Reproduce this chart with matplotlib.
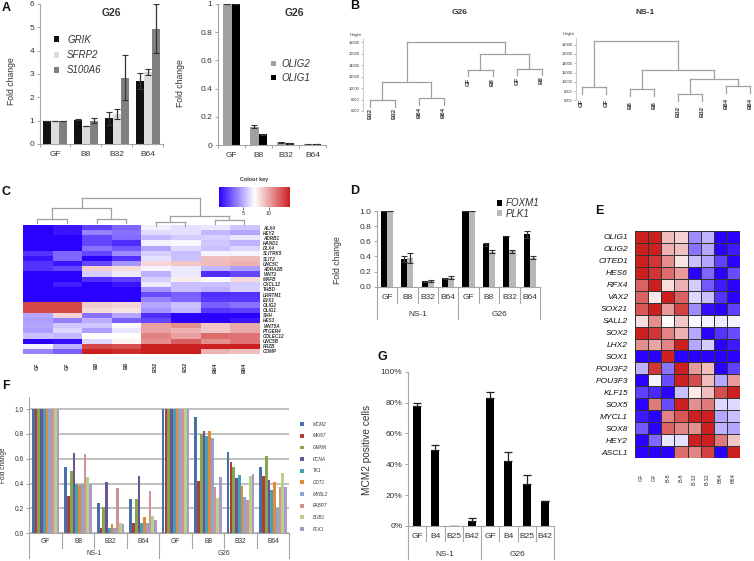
import numpy as np
import matplotlib
matplotlib.use('Agg')
from matplotlib import pyplot as plt
from matplotlib.colors import LinearSegmentedColormap

plt.rcParams['font.family'] = ['Liberation Sans', 'DejaVu Sans']

W, H = 754, 561
TXT = '#333333'
AXC = '#a6a6a6'

# panel A
a_stages = ['GF', 'B8', 'B32', 'B64']
grik = [1, 1.05, 1.1, 2.7]
grik_err = [0, 0.02, 0.28, 0.35]
sfrp2 = [1, 0.78, 1.3, 3.1]
sfrp2_err = [0, 0.01, 0.22, 0.13]
s100a6 = [1, 1, 2.85, 4.95]
s100a6_err = [0, 0.12, 0.95, 1.03]
olig2 = [1, 0.13, 0.02, 0.005]
olig2_err = [0, 0.012, 0.003, 0.002]
olig1 = [1, 0.075, 0.012, 0.005]
olig1_err = [0, 0.005, 0.002, 0.001]

# panel B, trees are (height, left, right), ints are leaf numbers
b_g26_leaves = ['B32', 'B32', 'B64', 'B64', 'GF', 'B8', 'GF', 'B8']
b_g26_tree = (18000, (11100, (7900, 0, 1), (8200, 2, 3)),
              (15900, (13200, 4, 5), (13400, 6, 7)))
b_ns1_leaves = ['GF', 'GF', 'B8', 'B8', 'B32', 'B32', 'B64', 'B64']
b_ns1_tree = (18800, (8800, 0, 1),
              (12450, (8350, 2, 3), (10650, (7300, 4, 5), (9000, 6, 7))))
b_ticks = [6000, 8000, 10000, 12000, 14000, 16000, 18000]

# panel C
c_columns = ['GF', 'GF', 'B8', 'B8', 'B32', 'B32', 'B64', 'B64']
c_genes = ['ALX4', 'HEY2', 'ADRB1', 'HAND1', 'DLX4', 'SLITRK5', 'SLIT2', 'UNC5C',
           'ADRA2B', 'WNT1', 'MAFB', 'CXCL12', 'THBD', 'LRRTM1', 'EVX1', 'OLIG2',
           'OLIG1', 'SHH', 'HES3', 'WNT5A', 'PTGER4', 'COLEC12', 'UNC5B', 'FRZB', 'COMP']
c_values = [
    [-1, -.92, -.75, -.6, -.06, -.12, -.1, -.22],
    [-1, -.92, -.48, -.55, -.14, -.12, -.28, -.35],
    [-1, -1, -.72, -.58, -.28, -.2, -.18, -.1],
    [-1, -1, -.72, -.82, -.05, -.03, -.22, -.3],
    [-1, -1, -.55, -.65, -.35, -.15, -.25, -.15],
    [-.8, -.6, -.72, -.45, -.18, -.25, -.04, -.04],
    [-.92, -.6, -1, -.8, -.12, -.25, .28, .3],
    [-.8, -.92, -.72, -.42, .18, .25, .3, .35],
    [-.8, -.72, .22, .16, -.04, -.08, -.28, -.38],
    [-1, -1, -.2, -.08, -.3, -.08, -.82, -.72],
    [-1, -1, -.82, -.75, -.18, .08, -.02, .16],
    [-1, -.88, -1, -.92, -.08, -.25, -.25, -.2],
    [-1, -1, -1, -1, -.42, -.25, -.3, -.18],
    [-1, -1, -1, -1, -.7, -.62, -.82, -.8],
    [-1, -1, -1, -1, -.48, -.6, -.78, -.78],
    [.82, .82, .22, .18, -.35, -.25, -.62, -.55],
    [.82, .82, .16, .12, -.42, -.28, -.78, -.75],
    [-.35, .2, -.55, -.35, -.82, -1, -1, -1],
    [-.38, -.5, -.32, -.62, -.72, -1, -1, -.92],
    [-.35, -.22, -.22, -.02, .42, .5, .25, .38],
    [-.38, -.15, -.38, -.1, .42, .35, .25, .38],
    [-.25, -.28, .0, .0, .55, .42, .65, .62],
    [-1, -.95, -.15, .05, .5, .72, .5, .62],
    [-.05, -.32, .82, .78, 1, 1, 1, 1],
    [-.48, -.62, 1, .95, 1, 1, .35, .28],
]
c_tree = (198, (208, (219, 0, 1), (219, 2, 3)),
          (216, (222, 4, 5), (220, 6, 7)))

# panel D
d_stages = ['GF', 'B8', 'B32', 'B64', 'GF', 'B8', 'B32', 'B64']
d_groups = ['NS-1', 'G26']
foxm1 = [1, 0.36, 0.07, 0.11, 1, 0.56, 0.67, 0.69]
foxm1_err = [0, 0.04, 0.005, 0.005, 0, 0.02, 0, 0.05]
plk1 = [1, 0.38, 0.08, 0.12, 1, 0.46, 0.47, 0.38]
plk1_err = [0, 0.07, 0.015, 0.015, 0, 0.02, 0.02, 0.02]

# panel E
e_columns = ['GF', 'GF', 'B-8', 'B-8', 'B-32', 'B-32', 'B64', 'B64']
e_genes = ['OLIG1', 'OLIG2', 'CITED1', 'HES6', 'RFX4', 'VAX2', 'SOX21', 'SALL2', 'SOX2',
           'LHX2', 'SOX1', 'POU3F2', 'POU3F3', 'KLF15', 'SOX5', 'MYCL1', 'SOX8', 'HEY2', 'ASCL1']
e_values = [
    [1, 1, .3, .2, -.45, -.3, -1, -1],
    [1, 1, .35, .28, -.55, -.35, -1, -.9],
    [1, .9, .5, .12, -.25, -.35, -.75, -1],
    [1, .9, .65, .45, -1, -.6, -1, -.7],
    [.7, 1, .15, .35, -.2, -.65, -.9, -1],
    [.7, .1, 1, .7, -.15, -.25, -.8, -1],
    [.75, 1, .45, .85, -.45, -.95, -1, -.75],
    [.15, .5, .02, .25, -.02, -.05, -.08, -.05],
    [1, .9, .55, .35, -.35, -1, -.8, -.7],
    [.5, .4, .55, 1, -.35, -.2, -1, -.9],
    [-1, -1, 1, -1, -1, -1, -1, -1],
    [-.3, .9, -.55, 1, .45, .3, -1, -.75],
    [-1, -.05, -.7, 1, .8, .3, -.35, .45],
    [-.75, -.85, -1, -.25, .1, .3, .8, 1],
    [-1, .6, -.7, 1, .5, .6, -.15, -.15],
    [-.9, -1, .55, .75, 1, 1, -.35, -.25],
    [-.65, -1, .7, .55, .5, 1, -.3, -.35],
    [-1, -.6, -.1, -.12, 1, 1, .6, .25],
    [-1, -1, -1, .65, .55, .85, -1, 1],
]

# panel F
f_genes = ['MCM2', 'MKI67', 'GMNN', 'PCNA', 'TK1', 'CDT1', 'MYBL2', 'FABP7', 'BUB1', 'PLK1']
f_colors = ['#4a6fa5', '#a5403c', '#86a64b', '#6b5295', '#46a0b8', '#e08a38',
            '#8ea4d2', '#d19391', '#b9cf8f', '#a99bc4']
f_values = [
    [1, .53, .245, .28, 1, .94, .655, .53],
    [1, .30, .04, .08, 1, .42, .575, .46],
    [1, .50, .215, .28, 1, .80, .535, .62],
    [1, .65, .415, .46, 1, .825, .445, .43],
    [1, .40, .04, .085, 1, .78, .47, .35],
    [1, .39, .075, .13, 1, .825, .38, .41],
    [1, .40, .045, .085, 1, .77, .295, .2],
    [1, .635, .365, .34, 1, .37, .265, .37],
    [1, .455, .08, .14, 1, .285, .465, .485],
    [1, .395, .075, .11, 1, .455, .475, .375],
]

# panel G
g_stages = ['GF', 'B4', 'B25', 'B42', 'GF', 'B4', 'B25', 'B42']
mcm2_pos = [78, 49.5, 0.3, 3, 83, 42, 27, 16]
mcm2_err = [1.5, 3, 0, 2, 4, 6, 6, 0]

fig = plt.figure(figsize=(W / 100, H / 100), dpi=100)
heat = LinearSegmentedColormap.from_list('heat', ['#2a00ff', '#ffffff', '#cc2020'])


def px_axes(x0, y0, x1, y1):
    # pixel box, y counted from the top like in the image
    ax = fig.add_axes([x0 / W, 1 - y1 / H, (x1 - x0) / W, (y1 - y0) / H])
    ax.patch.set_alpha(0)
    return ax


def bar_style(ax, size=6):
    for s in ['top', 'right']:
        ax.spines[s].set_visible(False)
    for s in ['left', 'bottom']:
        ax.spines[s].set_color(AXC)
    ax.tick_params(colors=TXT, labelsize=size, length=2, width=0.7, color=AXC, pad=2)


def ylab(ax, s, x_px, y_px, size=6.2):
    pos = ax.get_position()
    ax.set_ylabel(s, fontsize=size, color=TXT)
    ax.yaxis.set_label_coords((x_px / W - pos.x0) / pos.width, ((1 - y_px / H) - pos.y0) / pos.height)


def stage_axis(ax, labels, groups, height, size=6, d1=16, d2=32, l1=11, l2=28):
    # two level category axis under the bars
    n = len(labels)
    ax.set_xlim(0, n)
    ax.set_xticks([])
    tr = ax.get_xaxis_transform()
    for i in range(n + 1):
        d = d2 if i % (n // len(groups)) == 0 else d1
        ax.plot([i, i], [0, -d / height], color=AXC, lw=0.8, transform=tr, clip_on=False)
    for i, lab in enumerate(labels):
        ax.text(i + 0.5, -l1 / height, lab, transform=tr, ha='center', va='center', fontsize=size, color=TXT)
    for i, lab in enumerate(groups):
        ax.text((i + 0.5) * n / len(groups), -l2 / height, lab, transform=tr, ha='center', va='center',
                fontsize=size, color=TXT)


def draw_tree(ax, node, hang, color='#a0a0a0', lw=0.8):
    # returns x and height of the node, leaf stems hang below the parent
    h, left, right = node
    xs = []
    for child in (left, right):
        if isinstance(child, int):
            ax.plot([child, child], [h, h - hang], color=color, lw=lw, clip_on=False)
            xs.append(child)
        else:
            x, ch = draw_tree(ax, child, hang, color, lw)
            ax.plot([x, x], [h, ch], color=color, lw=lw, clip_on=False)
            xs.append(x)
    ax.plot(xs, [h, h], color=color, lw=lw, clip_on=False)
    return sum(xs) / 2, h


def leaf_labels(ax, node, leaves, drop):
    h, left, right = node
    for c in (left, right):
        if isinstance(c, int):
            ax.text(c, h - drop, leaves[c], rotation=90, fontsize=4.3, color=TXT, ha='center', va='top',
                    fontweight='bold', clip_on=False)
        else:
            leaf_labels(ax, c, leaves, drop)


def letter(x, y, s):
    fig.text(x / W, 1 - y / H, s, fontsize=9, fontweight='bold', color='#111111', ha='left', va='center')


def legend(ax, x, y, **kw):
    leg = ax.legend(loc='upper left', bbox_to_anchor=(x, y), frameon=False, handlelength=0.55, handleheight=0.55,
                    borderpad=0, borderaxespad=0, labelcolor=TXT, **kw)
    for t in leg.get_texts():
        t.set_fontstyle('italic')
    return leg


ebar = dict(ecolor='#333333', capsize=2.5, error_kw=dict(lw=0.9, capthick=0.8))

# A left
ax = px_axes(39.5, 4, 163, 144)
x = np.arange(len(a_stages))
ax.bar(x - 0.26, grik, 0.26, yerr=grik_err, color='#111111', label='GRIK', **ebar)
ax.bar(x, sfrp2, 0.26, yerr=sfrp2_err, color='#dcdcdc', label='SFRP2', **ebar)
ax.bar(x + 0.26, s100a6, 0.26, yerr=s100a6_err, color='#808080', label='S100A6', **ebar)
ax.set_xlim(-0.5, 3.5)
ax.set_ylim(0, 6)
ax.set_xticks(np.arange(-0.5, 4), [''] * 5)
ax.set_yticks(range(7))
bar_style(ax)
for i, s in enumerate(a_stages):
    ax.text(i, -0.47, s, ha='center', va='center', fontsize=6, color=TXT)
ylab(ax, 'Fold change', 16, 81)
fig.text(111 / W, 1 - 13 / H, 'G26', fontsize=7.5, fontweight='bold', color=TXT, ha='center', va='center')
legend(ax, 0.117, 0.78, fontsize=7, labelspacing=0.55, handletextpad=0.8)

# A right
ax = px_axes(218, 4, 326, 145)
x = np.arange(len(a_stages))
ax.bar(x - 0.165, olig2, 0.33, yerr=olig2_err, color='#a0a0a0', label='OLIG2', **ebar)
ax.bar(x + 0.165, olig1, 0.33, yerr=olig1_err, color='#000000', label='OLIG1', **ebar)
ax.set_xlim(-0.5, 3.5)
ax.set_ylim(0, 1)
ax.set_xticks(np.arange(-0.5, 4), [''] * 5)
ax.set_yticks([0, 0.2, 0.4, 0.6, 0.8, 1], ['0', '0.2', '0.4', '0.6', '0.8', '1'])
bar_style(ax)
for i, s in enumerate(a_stages):
    ax.text(i, -0.078, s, ha='center', va='center', fontsize=6, color=TXT)
ylab(ax, 'Fold change', 185, 83)
fig.text(294 / W, 1 - 13 / H, 'G26', fontsize=7.5, fontweight='bold', color=TXT, ha='center', va='center')
legend(ax, 0.488, 0.61, fontsize=7, labelspacing=0.4, handletextpad=0.55)

# B dendrograms
for box, leaves, tree, step, first, hang, drop, ytop in [
        ((363, 39, 545, 111), b_g26_leaves, b_g26_tree, 24.5, 370, 1160, 1400, 18570),
        ((575.7, 38, 752, 100.3), b_ns1_leaves, b_ns1_tree, 24.05, 581.7, 1440, 2500, 19450)]:
    ax = px_axes(*box)
    ax.set_xlim((box[0] - first) / step, (box[2] - first) / step)
    ax.set_ylim(6000, ytop)
    for s in ['top', 'right', 'bottom']:
        ax.spines[s].set_visible(False)
    ax.spines['left'].set_color('#cccccc')
    ax.set_xticks([])
    ax.set_yticks(b_ticks)
    ax.tick_params(axis='y', labelsize=2.9, length=1.5, width=0.5, color='#999999', labelcolor=TXT, pad=1)
    draw_tree(ax, tree, hang, lw=0.9)
    ax.text(-0.04, 1.03, 'Height', transform=ax.transAxes, fontsize=2.9, color=TXT, ha='center', va='bottom')
    leaf_labels(ax, tree, leaves, drop)
fig.text(459.5 / W, 1 - 12 / H, 'G26', fontsize=6, fontweight='bold', color=TXT, ha='center', va='center')
fig.text(645 / W, 1 - 12 / H, 'NS-1', fontsize=6, fontweight='bold', color=TXT, ha='center', va='center')

# C heatmap
ax = px_axes(22.7, 225, 259, 354)
ax.imshow(c_values, cmap=heat, vmin=-1, vmax=1, aspect='auto', interpolation='nearest')
ax.set_xticks(range(8), c_columns, rotation=90, fontsize=4, fontweight='bold', color=TXT)
ax.set_yticks(range(len(c_genes)), c_genes, fontsize=3.3, fontstyle='italic', fontweight='bold', color=TXT)
ax.yaxis.tick_right()
ax.tick_params(length=0, pad=3)
ax.tick_params(axis='x', pad=6)
for s in ax.spines.values():
    s.set_visible(False)

ax = px_axes(22.7, 190, 259, 225)
ax.set_xlim(-0.5, 7.5)
ax.set_ylim(225, 190)
ax.axis('off')
draw_tree(ax, c_tree, -4, lw=0.9)

ax = px_axes(219, 187, 290, 207)
ax.imshow([np.linspace(-1, 1, 256)], cmap=heat, aspect='auto', extent=(0.4, 14, 0, 1))
ax.set_yticks([])
ax.set_xticks([5, 10])
ax.tick_params(labelsize=3.9, length=2, width=0.5, color=TXT, labelcolor=TXT, pad=1)
for s in ax.spines.values():
    s.set_visible(False)
ax.set_title('Colour key', fontsize=3.9, fontweight='bold', color=TXT, pad=4)

# D
ax = px_axes(376.7, 211, 540, 286.7)
x = np.arange(8) + 0.5
ax.bar(x - 0.15, foxm1, 0.3, yerr=foxm1_err, color='#000000', label='FOXM1', **ebar)
ax.bar(x + 0.15, plk1, 0.3, yerr=plk1_err, color='#b8b8b8', label='PLK1', **ebar)
ax.set_ylim(0, 1)
ax.set_yticks(np.arange(0, 1.01, 0.2), ['0.0', '0.2', '0.4', '0.6', '0.8', '1.0'])
bar_style(ax)
stage_axis(ax, d_stages, d_groups, 75.7)
ylab(ax, 'Fold change', 342, 260)
legend(ax, 0.735, 1.17, fontsize=7, labelspacing=0.05, handletextpad=0.35)

# E heatmap
ax = px_axes(635, 231, 740, 458)
ax.pcolormesh(np.array(e_values)[::-1], cmap=heat, vmin=-1, vmax=1, edgecolors='#333333', linewidth=0.4)
ax.set_xticks(np.arange(8) + 0.5, e_columns, rotation=90, fontsize=4, color=TXT)
ax.set_yticks(np.arange(19) + 0.5, e_genes[::-1], fontsize=6, fontstyle='italic', color='#111111')
ax.tick_params(length=0, pad=5)
ax.tick_params(axis='x', pad=11)
for s in ax.spines.values():
    s.set_visible(False)

# F
ax = px_axes(29.3, 396.7, 289.3, 533.3)
bw = 0.085
for i, (gene, vals) in enumerate(zip(f_genes, f_values)):
    ax.bar(np.arange(8) + 0.5 + (i - 4.5) * bw, vals, bw, color=f_colors[i], label=gene, zorder=3)
ax.set_ylim(0, 1.1)
ax.set_yticks(np.arange(0, 1.01, 0.2), ['0.0', '0.2', '0.4', '0.6', '0.8', '1.0'])
ax.grid(axis='y', color='#b5b5b5', lw=1.2, zorder=0)
bar_style(ax, 4.8)
stage_axis(ax, d_stages, d_groups, 136.6, size=4.8, d1=15, d2=25, l1=8, l2=20)
ylab(ax, 'Fold change', 7, 465.5, size=4.7)
leg = ax.legend(loc='upper left', bbox_to_anchor=(1.042, 0.817), frameon=False, fontsize=3.3, handlelength=0.9,
                handleheight=0.9, handletextpad=1.9, borderpad=0, borderaxespad=0, labelspacing=1.45, labelcolor=TXT)
for t in leg.get_texts():
    t.set_fontstyle('italic')

# G
ax = px_axes(408, 371.7, 554, 526)
x = np.arange(8) + 0.5
ax.bar(x, mcm2_pos, 0.45, color='#000000', yerr=[[0] * 8, mcm2_err], ecolor='#222222', capsize=3,
       error_kw=dict(lw=0.9, capthick=0.9))
ax.set_ylim(0, 100)
ax.set_yticks(range(0, 101, 20), [f'{v}%' for v in range(0, 101, 20)])
bar_style(ax)
stage_axis(ax, g_stages, d_groups, 154.3, d1=15, d2=33, l1=11, l2=28)
ylab(ax, 'MCM2 positive cells', 372, 450, size=7.3)

letter(2, 8, 'A')
letter(350, 6, 'B')
letter(1, 192, 'C')
letter(350, 191, 'D')
letter(595, 211, 'E')
letter(2, 386, 'F')
letter(377, 357, 'G')

fig.savefig('out.png', dpi=100)
plt.close(fig)
